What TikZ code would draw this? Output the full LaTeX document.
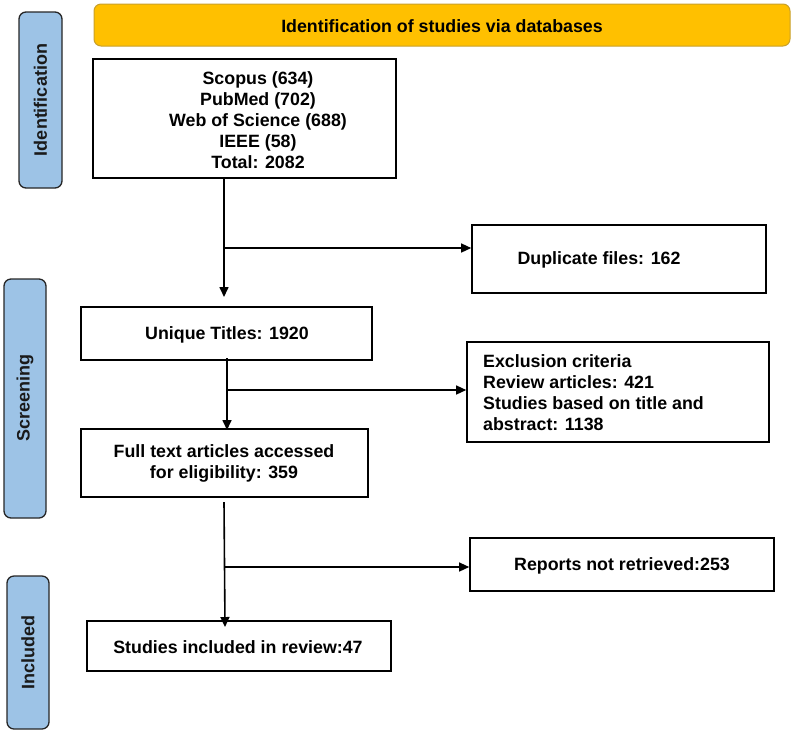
\documentclass[tikz,border=0pt]{standalone}
\usepackage{fontspec}
\setmainfont{Liberation Sans}
\usetikzlibrary{arrows.meta}
\definecolor{banner}{HTML}{FFC000}
\definecolor{bannerdraw}{HTML}{C8A02A}
\definecolor{sidefill}{HTML}{9DC3E6}
\definecolor{sidetext}{HTML}{1A1A1A}
\tikzset{
  box/.style={draw=black, line width=1.6pt, fill=white, inner sep=0pt},
  txt/.style={font=\fontsize{17.8}{21}\selectfont\bfseries, align=center, inner sep=0pt},
  side/.style={draw=black!85, line width=1.3pt, fill=sidefill, rounded corners=7pt, inner sep=0pt},
  sidetxt/.style={font=\fontsize{18}{22}\selectfont\bfseries, text=sidetext, rotate=90, inner sep=0pt},
  flow/.style={line width=1.6pt, -{Triangle[length=10pt,width=9pt]}},
  branch/.style={line width=1.3pt, -{Triangle[length=10pt,width=9pt]}}
}
\begin{document}
\begin{tikzpicture}[x=1pt,y=-1pt]
\useasboundingbox (0,0) rectangle (794,732);
% banner
\node[draw=bannerdraw, line width=1pt, fill=banner, rounded corners=7pt, minimum width=696pt, minimum height=42pt, inner sep=0pt] (ban) at (442,25) {};
\node[txt] (bant) at (442,26) {Identification of studies via databases};
% side labels
\node[side, minimum width=43pt, minimum height=176pt] (sid1) at (40.5,100) {};
\node[sidetxt] (sid1t) at (40.5,100) {Identification};
\node[side, minimum width=42pt, minimum height=239pt] (sid2) at (25,398.5) {};
\node[sidetxt] (sid2t) at (25,398) {Screening};
\node[side, minimum width=42pt, minimum height=153pt] (sid3) at (28,652.5) {};
\node[sidetxt] (sid3t) at (28,652) {Included};
% boxes
\node[box, minimum width=303pt, minimum height=119pt] (db) at (244.5,118.5) {};
\node[txt] (dbt) at (258,120.5) {Scopus (634)\\PubMed (702)\\Web of Science (688)\\IEEE (58)\\Total: 2082};
\node[box, minimum width=294pt, minimum height=68pt] (dup) at (619,259) {};
\node[txt] (dupt) at (599,260) {Duplicate files: 162};
\node[box, minimum width=291pt, minimum height=53pt] (uni) at (226.5,333.5) {};
\node[txt] (unit) at (227,335) {Unique Titles: 1920};
\node[box, minimum width=302pt, minimum height=100pt] (exc) at (618,392) {};
\node[txt, align=left, anchor=west] (exct) at (483,392.5) {Exclusion criteria\\Review articles: 421\\Studies based on title and\\abstract: 1138};
\node[box, minimum width=287pt, minimum height=68pt] (ful) at (224.5,463) {};
\node[txt] (fult) at (224,463.5) {Full text articles accessed\\for eligibility: 359};
\node[box, minimum width=304pt, minimum height=53pt] (rep) at (622,564.5) {};
\node[txt] (rept) at (622,566) {Reports not retrieved:253};
\node[box, minimum width=304pt, minimum height=50pt] (fin) at (239,646) {};
\node[txt] (fint) at (238,647) {Studies included in review:47};
% connectors
\coordinate (a1) at (224,178);
\coordinate (a1e) at (224,297);
\coordinate (b1) at (225,248);
\draw[flow] (db.south -| a1) -- (a1e);
\draw[branch] (b1) -- (dup.west |- b1);
\coordinate (a2) at (227,358);
\coordinate (a2e) at (227,430);
\coordinate (b2) at (228,390);
\draw[flow] (a2) -- (a2e);
\draw[branch] (b2) -- (exc.west |- b2);
\coordinate (a3) at (224,502);
\coordinate (a3e) at (225,627);
\coordinate (b3) at (225,567);
\draw[flow] (a3) -- (a3e);
\draw[branch] (b3) -- (rep.west |- b3);
\end{tikzpicture}
\end{document}
